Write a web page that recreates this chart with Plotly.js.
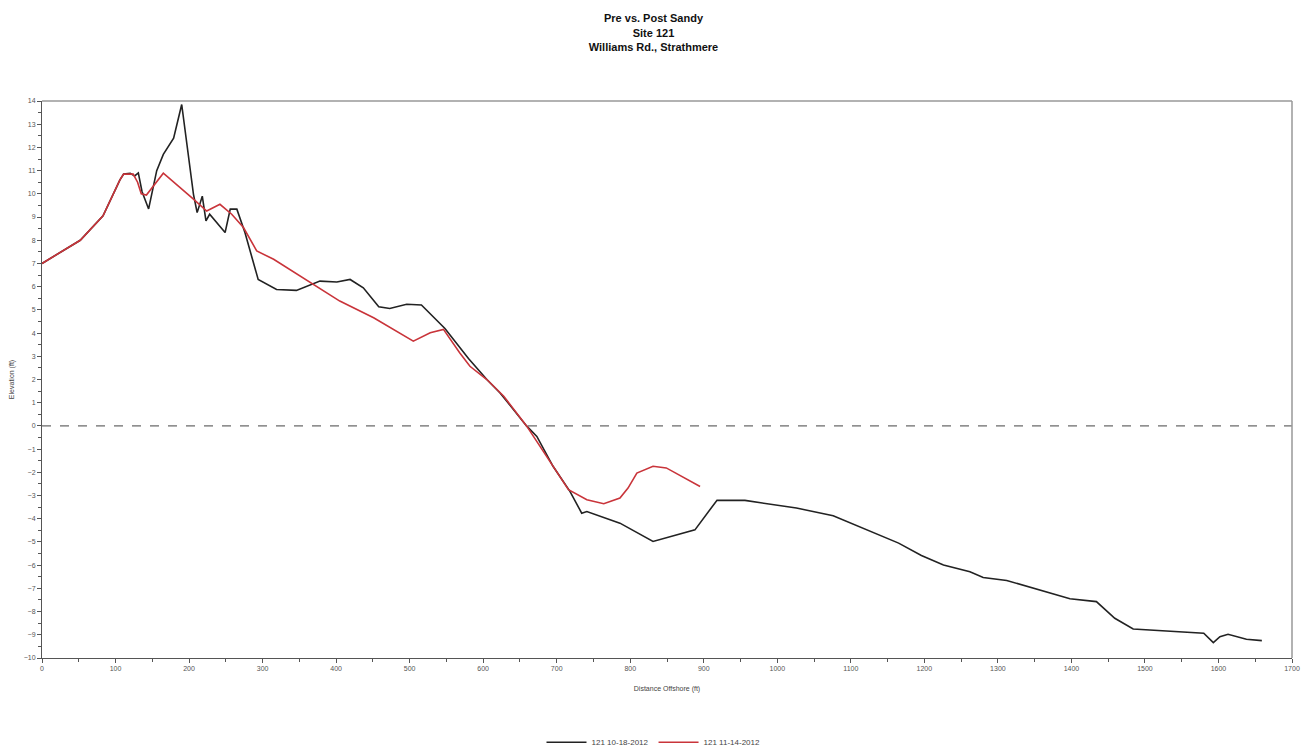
<!DOCTYPE html>
<html>
<head>
<meta charset="utf-8">
<script src="https://cdn.plot.ly/plotly-3.0.1.min.js"></script>
<style>html,body{margin:0;padding:0;background:#fff;}#chart{width:1307px;height:749px;}</style>
</head>
<body>
<div id="chart"></div>
<script>
const preName = "121 10-18-2012";
const preX = [0,52,83,106,111,120,126,131,136,145,156,165,179,190,206,211,218,223,228,249,256,265,276,294,319,346,378,401,419,437,458,473,496,516,548,580,605,623,659,673,695,718,734,741,786,831,888,918,956,1026,1076,1121,1165,1196,1226,1262,1280,1312,1352,1398,1434,1459,1484,1530,1580,1593,1602,1613,1638,1659];
const preY = [7.0,8.0,9.05,10.6,10.85,10.88,10.77,10.9,10.1,9.35,11.0,11.7,12.4,13.85,9.98,9.19,9.9,8.83,9.12,8.33,9.34,9.34,8.33,6.31,5.88,5.84,6.24,6.2,6.31,5.95,5.13,5.06,5.24,5.21,4.2,2.9,2.0,1.42,0.0,-0.45,-1.74,-2.82,-3.76,-3.69,-4.19,-4.98,-4.48,-3.2,-3.21,-3.54,-3.87,-4.48,-5.05,-5.58,-5.99,-6.28,-6.53,-6.66,-7.04,-7.45,-7.57,-8.29,-8.75,-8.83,-8.93,-9.34,-9.08,-8.98,-9.19,-9.25];

const postName = "121 11-14-2012";
const postX = [0,52,83,106,111,124,130,135,142,165,206,224,242,258,274,292,315,351,369,405,451,482,505,528,546,568,582,605,628,659,695,716,741,764,786,797,809,831,849,895];
const postY = [7.0,8.0,9.05,10.6,10.85,10.85,10.5,10.0,9.95,10.89,9.77,9.26,9.55,9.12,8.55,7.54,7.18,6.45,6.1,5.38,4.66,4.08,3.65,4.01,4.16,3.15,2.57,2.0,1.28,0.0,-1.74,-2.75,-3.18,-3.35,-3.11,-2.68,-2.03,-1.74,-1.81,-2.61];

const titleLines = ["Pre vs. Post Sandy","Site 121","Williams Rd., Strathmere"];
const xTitle = "Distance Offshore (ft)";
const yTitle = "Elevation (ft)";

const font = "Liberation Sans, Arial, sans-serif";

const traces = [
  {x: preX, y: preY, type: "scatter", mode: "lines", name: preName,
   line: {color: "#222222", width: 1.6}},
  {x: postX, y: postY, type: "scatter", mode: "lines", name: postName,
   line: {color: "#c9343a", width: 1.6}}
];

const axisCommon = {
  showgrid: false, zeroline: false, showline: true, linecolor: "#555", linewidth: 1,
  ticks: "outside", ticklen: 4, tickcolor: "#555", tickwidth: 1,
  tickfont: {family: font, size: 7, color: "#555"},
  mirror: false, automargin: false
};

const layout = {
  width: 1307, height: 749,
  paper_bgcolor: "#fff", plot_bgcolor: "#fff",
  margin: {l: 42, r: 15, t: 101, b: 91},
  showlegend: true,
  title: {text: titleLines.join("<br>"), x: 0.5, xanchor: "center", y: 0.970, yanchor: "top",
          font: {family: font, size: 11, color: "#111", weight: "bold"}},
  xaxis: Object.assign({}, axisCommon, {
    range: [0, 1700], dtick: 100, tick0: 0,
    minor: {dtick: 50, ticks: "outside", ticklen: 3, tickcolor: "#555"},
    title: {text: xTitle, font: {family: font, size: 7, color: "#444"}, standoff: 14}
  }),
  yaxis: Object.assign({}, axisCommon, {
    range: [-10, 14], dtick: 1, tick0: 0,
    minor: {dtick: 0.5, ticks: "outside", ticklen: 3, tickcolor: "#555"},
    title: {text: yTitle, font: {family: font, size: 7, color: "#444"}, standoff: 8}
  }),
  shapes: [
    {type: "line", xref: "paper", yref: "y", x0: 0, x1: 1, y0: 0, y1: 0,
     line: {color: "#444", width: 1, dash: "dash"}},
    {type: "line", xref: "paper", yref: "paper", x0: 0, x1: 1, y0: 1, y1: 1,
     line: {color: "#999", width: 1.5}},
    {type: "line", xref: "paper", yref: "paper", x0: 1, x1: 1, y0: 0, y1: 1,
     line: {color: "#999", width: 1.5}}
  ],
  legend: {orientation: "h", x: 0.5, xanchor: "center", xref: "container",
           y: 0.009, yanchor: "middle", yref: "container",
           font: {family: font, size: 8, color: "#444"}, itemwidth: 40, tracegroupgap: 0}
};

Plotly.newPlot("chart", traces, layout, {displayModeBar: false, staticPlot: true});
</script>
</body>
</html>
